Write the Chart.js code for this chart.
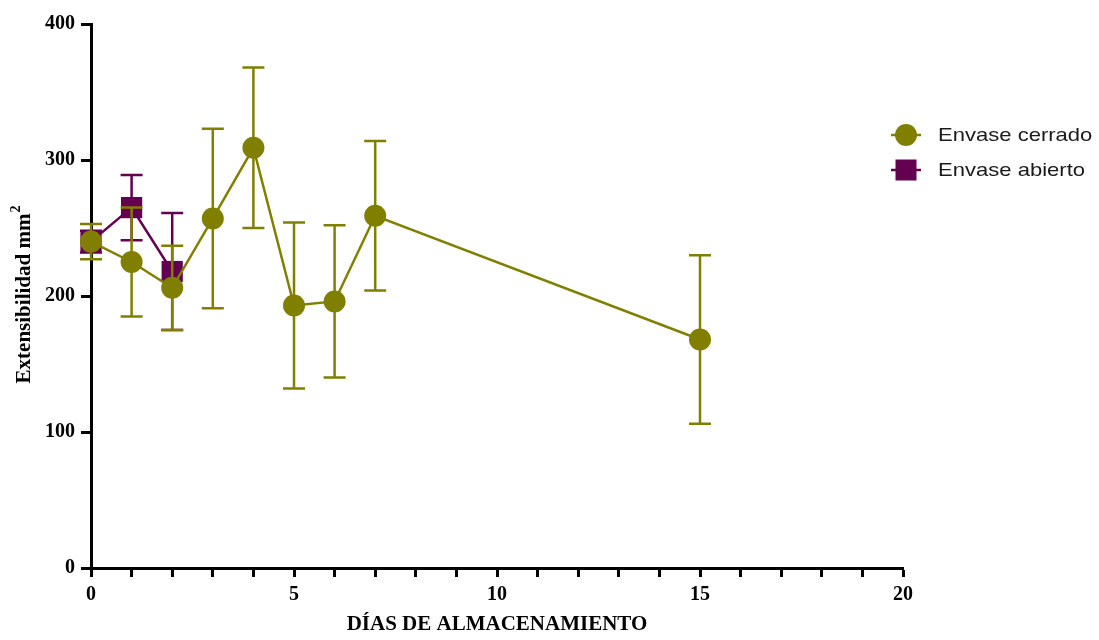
<!DOCTYPE html>
<html>
<head>
<meta charset="utf-8">
<script src="https://cdn.jsdelivr.net/npm/chart.js@4"></script>
<style>
  html, body { margin: 0; padding: 0; background: #fff; }
  #wrap { width: 1099px; height: 640px; }
</style>
</head>
<body>
<div id="wrap"><canvas id="c" width="1099" height="640"></canvas></div>
<script>
// Storage days and extensibility (mean ± SD) for each packaging condition
const dias = [0, 1, 2, 3, 4, 5, 6, 7, 15];
const cerrado = [240, 225, 206, 257, 309, 193, 196, 259, 168];
const cerradoSD = [13, 40, 31, 66, 59, 61, 56, 55, 62];

const diasAbierto = [0, 1, 2];
const abierto = [240, 265, 218];
const abiertoSD = [8, 24, 43];

const xTicks = [0, 5, 10, 15, 20];
const yTicks = [0, 100, 200, 300, 400];

const OLIVE = '#807f00';
const PURPLE = '#640050';
const SERIF = '"Liberation Serif", "Times New Roman", serif';
const SANS = '"Liberation Sans", Arial, sans-serif';

const sdByDataset = [cerradoSD, abiertoSD];

// Error bars drawn just before their own dataset so layering follows dataset order
const errorBars = {
  id: 'errorBars',
  beforeDatasetDraw(chart, args) {
    const i = args.index;
    const sd = sdByDataset[i];
    const ds = chart.data.datasets[i];
    const xs = chart.scales.x, ys = chart.scales.y;
    const ctx = chart.ctx;
    ctx.save();
    ctx.strokeStyle = ds.borderColor;
    ctx.lineWidth = 2.5;
    const cap = 11;
    ds.data.forEach((p, k) => {
      const x = xs.getPixelForValue(p.x);
      const yt = ys.getPixelForValue(p.y + sd[k]);
      const yb = ys.getPixelForValue(p.y - sd[k]);
      ctx.beginPath();
      ctx.moveTo(x, yt); ctx.lineTo(x, yb);
      ctx.moveTo(x - cap, yt); ctx.lineTo(x + cap, yt);
      ctx.moveTo(x - cap, yb); ctx.lineTo(x + cap, yb);
      ctx.stroke();
    });
    ctx.restore();
  }
};

// Y axis title with a raised exponent, and the legend on the right
const annotations = {
  id: 'annotations',
  afterDraw(chart) {
    const ctx = chart.ctx;
    ctx.save();

    // rotated y title: "Extensibilidad mm" + superscript 2
    const main = 'Extensibilidad mm';
    ctx.translate(30, 295);
    ctx.rotate(-Math.PI / 2);
    ctx.fillStyle = '#000';
    ctx.textBaseline = 'alphabetic';
    ctx.textAlign = 'left';
    ctx.font = 'bold 21px ' + SERIF;
    const wMain = ctx.measureText(main).width;
    ctx.font = 'bold 14px ' + SERIF;
    const wSup = ctx.measureText('2').width;
    const x0 = -(wMain + wSup) / 2;
    ctx.font = 'bold 21px ' + SERIF;
    ctx.fillText(main, x0, 0);
    ctx.font = 'bold 14px ' + SERIF;
    ctx.fillText('2', x0 + wMain + 1, -10);
    ctx.setTransform(1, 0, 0, 1, 0, 0);

    // legend
    const items = [
      { label: 'Envase cerrado', color: OLIVE, shape: 'circle', y: 135 },
      { label: 'Envase abierto', color: PURPLE, shape: 'square', y: 170 }
    ];
    items.forEach(it => {
      const cx = 906;
      ctx.strokeStyle = it.color;
      ctx.fillStyle = it.color;
      ctx.lineWidth = 2.5;
      ctx.beginPath();
      ctx.moveTo(cx - 15, it.y); ctx.lineTo(cx + 15, it.y);
      ctx.stroke();
      ctx.beginPath();
      if (it.shape === 'circle') {
        ctx.arc(cx, it.y, 11, 0, Math.PI * 2);
      } else {
        ctx.rect(cx - 10.5, it.y - 10.5, 21, 21);
      }
      ctx.fill();
      ctx.save();
      ctx.translate(938, it.y + 1);
      ctx.scale(1.16, 1);
      ctx.fillStyle = '#1a1a1a';
      ctx.font = '19px ' + SANS;
      ctx.textBaseline = 'middle';
      ctx.textAlign = 'left';
      ctx.fillText(it.label, 0, 0);
      ctx.restore();
    });
    ctx.restore();
  }
};

const toPoints = (xs, ys) => xs.map((x, k) => ({ x: x, y: ys[k] }));

new Chart(document.getElementById('c'), {
  type: 'scatter',
  data: {
    datasets: [
      {
        label: 'Envase cerrado',
        data: toPoints(dias, cerrado),
        showLine: true,
        borderColor: OLIVE,
        backgroundColor: OLIVE,
        borderWidth: 2.5,
        pointStyle: 'circle',
        pointRadius: 11,
        pointHoverRadius: 11,
        pointBorderWidth: 0,
        clip: false
      },
      {
        label: 'Envase abierto',
        data: toPoints(diasAbierto, abierto),
        showLine: true,
        borderColor: PURPLE,
        backgroundColor: PURPLE,
        borderWidth: 2.5,
        pointStyle: 'rect',
        pointRadius: 15,
        pointHoverRadius: 15,
        pointBorderWidth: 0,
        clip: false
      }
    ]
  },
  options: {
    responsive: false,
    animation: false,
    layout: { padding: { top: 24, right: 196, left: 0, bottom: 0 } },
    plugins: {
      legend: { display: false },
      tooltip: { enabled: false }
    },
    scales: {
      x: {
        type: 'linear',
        min: 0, max: 20,
        afterFit(s) { s.height = 72; },
        border: { color: '#000', width: 3 },
        grid: { drawOnChartArea: false, drawTicks: true, tickLength: 9, tickWidth: 3, tickColor: '#000' },
        ticks: {
          stepSize: 1,
          padding: 6,
          color: '#000',
          font: { family: SERIF, size: 20, weight: 'bold' },
          maxRotation: 0,
          autoSkip: false,
          callback: v => xTicks.includes(v) ? String(v) : ''
        },
        title: {
          display: true,
          text: 'DÍAS DE ALMACENAMIENTO',
          color: '#000',
          font: { family: SERIF, size: 21, weight: 'bold' },
          padding: { top: 0, bottom: 3 }
        }
      },
      y: {
        type: 'linear',
        min: 0, max: 400,
        afterFit(s) { s.width = 91; },
        border: { color: '#000', width: 3 },
        grid: { drawOnChartArea: false, drawTicks: true, tickLength: 10, tickWidth: 3, tickColor: '#000' },
        ticks: {
          stepSize: 100,
          padding: 6,
          color: '#000',
          font: { family: SERIF, size: 20, weight: 'bold' },
          callback: v => yTicks.includes(v) ? String(v) : ''
        },
        title: { display: false }
      }
    }
  },
  plugins: [errorBars, annotations]
});
</script>
</body>
</html>
